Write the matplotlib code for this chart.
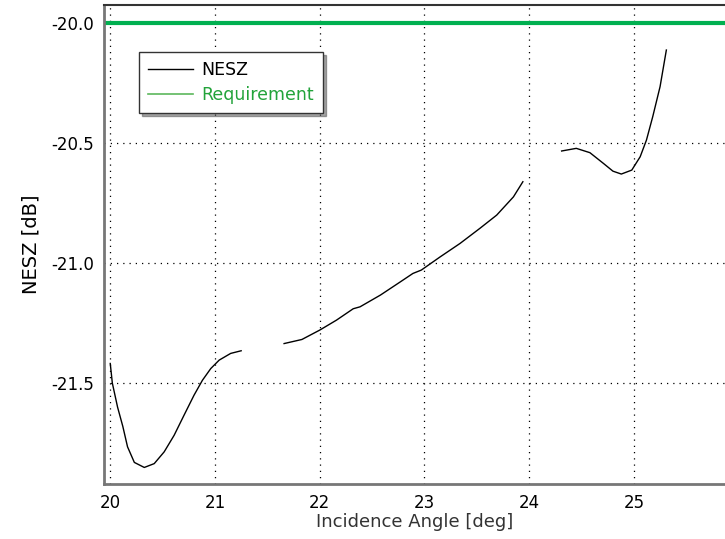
import numpy as np
import matplotlib
matplotlib.use('Agg')
import matplotlib.pyplot as plt

plt.rcParams['font.family'] = ['DejaVu Sans']

# NESZ curve, three pieces
ang1 = [20.0, 20.02, 20.07, 20.12, 20.165, 20.23, 20.325, 20.42, 20.515, 20.61, 20.705,
        20.80, 20.88, 20.96, 21.04, 21.15, 21.25]
nesz1 = [-21.418, -21.50, -21.60, -21.68, -21.765, -21.83, -21.851, -21.835, -21.786, -21.717,
         -21.633, -21.55, -21.488, -21.439, -21.404, -21.376, -21.365]
ang2 = [21.66, 21.83, 22.0, 22.16, 22.32, 22.385, 22.58, 22.77, 22.89, 22.97, 23.15, 23.34,
        23.53, 23.69, 23.85, 23.94]
nesz2 = [-21.335, -21.318, -21.279, -21.2375, -21.19, -21.182, -21.133, -21.078, -21.043,
         -21.029, -20.974, -20.918, -20.855, -20.80, -20.724, -20.661]
ang3 = [24.31, 24.45, 24.58, 24.71, 24.80, 24.88, 24.98, 25.06, 25.12, 25.18, 25.25, 25.31]
nesz3 = [-20.533, -20.522, -20.54, -20.585, -20.617, -20.629, -20.6125, -20.557, -20.4875,
         -20.39, -20.265, -20.1125]
requirement = -20.0

xticks = [20, 21, 22, 23, 24, 25]
yticks = [-20.0, -20.5, -21.0, -21.5]

fig = plt.figure(figsize=(7.25, 5.39), dpi=100)
ax = fig.add_axes([0.1434, 0.102, 0.8566, 0.8887])

ax.plot(ang1, nesz1, color='black', lw=1.0, label='NESZ')
ax.plot(ang2, nesz2, color='black', lw=1.0)
ax.plot(ang3, nesz3, color='black', lw=1.0)
ax.axhline(requirement, color='#00b050', lw=3, label='Requirement')

ax.set_xlim(19.94, 25.87)
ax.set_ylim(-21.92, -19.925)
ax.set_xticks(xticks)
ax.set_yticks(yticks)
ax.set_yticklabels(['%.1f' % v for v in yticks])
ax.tick_params(length=0, labelsize=12, pad=7)
ax.grid(True, color='black', linestyle=(0, (1, 4)), lw=0.9)

for s in ['left', 'bottom']:
    ax.spines[s].set_color('#777777')
    ax.spines[s].set_linewidth(2)
ax.spines['top'].set_color('#333333')
ax.spines['top'].set_linewidth(1.5)
ax.spines['right'].set_visible(False)

ax.set_xlabel('Incidence Angle [deg]', fontsize=13, color='#333333', labelpad=1)
ax.set_ylabel('NESZ [dB]', fontsize=14, labelpad=8)

leg = ax.legend(loc='upper left', bbox_to_anchor=(0.0564, 0.902), borderaxespad=0,
                fancybox=False, shadow=True, edgecolor='#333333', fontsize=12.5,
                labelcolor='linecolor', handlelength=2.6, borderpad=0.5, labelspacing=0.45,
                handletextpad=0.5, framealpha=1)
leg.legend_handles[1].set_linewidth(1.2)
leg.legend_handles[1].set_color('#5cb85c')
leg.get_texts()[1].set_color('#22a33a')

fig.savefig('out.png', dpi=100)
